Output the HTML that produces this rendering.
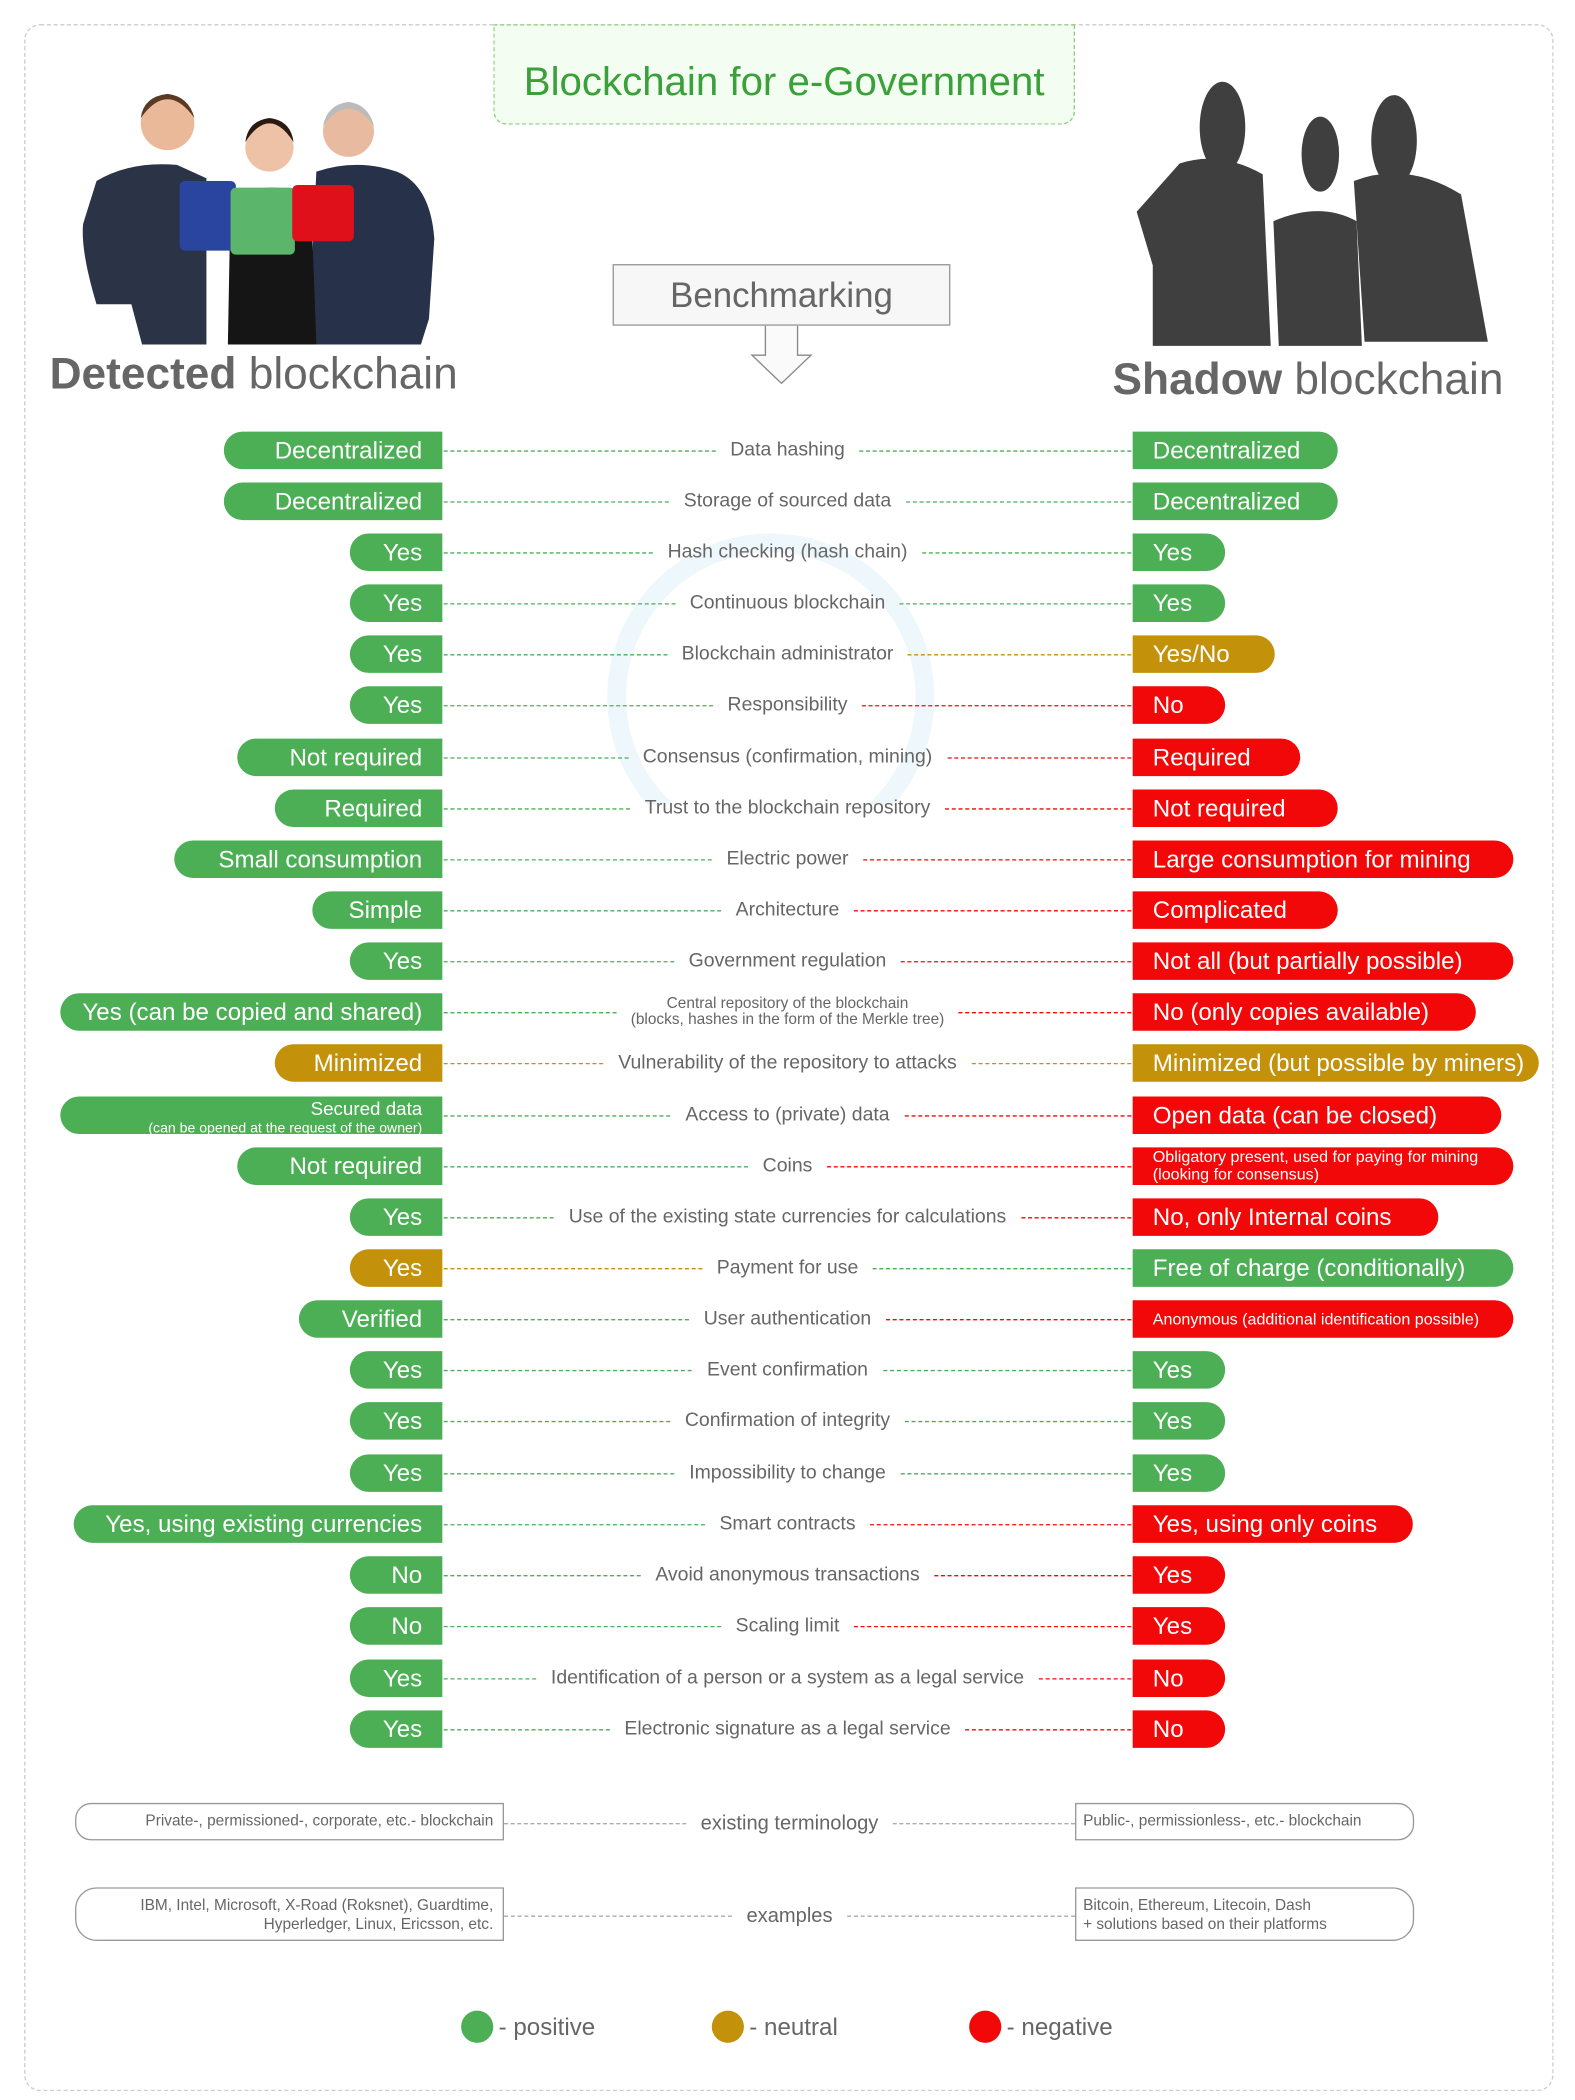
<!DOCTYPE html>
<html><head><meta charset="utf-8"><style>
html,body{margin:0;padding:0;background:#fff;width:1575px;height:2100px;overflow:hidden}
#c{position:absolute;left:0;top:0;width:1175px;height:1567px;transform:scale(1.34043);transform-origin:0 0;font-family:"Liberation Sans",sans-serif;color:#666}
.a{position:absolute}
.row{position:absolute;left:0;width:1175px;height:28px}
.lp,.rp{position:absolute;top:0;height:28px;line-height:28px;color:#fff;font-size:18px;white-space:nowrap;box-sizing:border-box}
.lp{right:845px;border-radius:14px 0 0 14px;text-align:right;padding-right:15px}
.rp{left:845px;border-radius:0 14px 14px 0;padding-left:15px}
.mid{position:absolute;left:331px;width:513px;top:0;height:28px;display:flex;align-items:center}
.mid span{font-size:14.5px;color:#666;padding:0 11px;white-space:nowrap;text-align:center;line-height:1}
.l{flex:1;height:0;border-top:1px dashed}
.g{background:#4caf55}.y{background:#c3920a}.r{background:#f20808}
.gl{border-color:#4caf55}.yl{border-color:#c3920a}.rl{border-color:#f20808}
.sm{font-size:11.5px!important;line-height:1.05!important}
.box{position:absolute;border:1px solid #999;box-sizing:border-box;font-size:11.5px;color:#666}
.dl{flex:1;height:0;border-top:1px dashed #aaa}
</style></head><body><div id="c">
<div class="a" style="left:18px;top:18px;width:1139px;height:1540px;border:1px dashed #ccc;border-radius:12px"></div>
<svg class="a" style="left:0;top:0" width="1175" height="600">
<circle cx="575" cy="520" r="115" fill="none" stroke="#eef7fb" stroke-width="14"/>
<g>
<path d="M72 135 q25-15 60-12 l22 10 l0 124 h-48 l-8-30 h-26 q-12-40-10-60z" fill="#2b3346"/>
<circle cx="125" cy="92" r="20" fill="#e9b99a"/><path d="M105 88 q20-28 40 0 q-4-16-20-18 q-18 2-20 18z" fill="#5a3a22"/>
<path d="M236 128 q30-10 60 0 q25 10 28 50 l-4 60 l-6 19 h-84z" fill="#27324a"/>
<circle cx="260" cy="98" r="19" fill="#e8bba0"/><path d="M241 94 q19-26 38 0 q-4-16-19-18 q-16 2-19 18z" fill="#bbb"/>
<path d="M172 148 q30-16 60 0 l4 109 h-66z" fill="#151515"/>
<circle cx="201" cy="110" r="18" fill="#eec2a6"/><path d="M183 106 q18-28 36 0 q-2-16-18-18 q-16 2-18 18z" fill="#2a1a12"/>
<rect x="134" y="135" width="42" height="52" rx="4" fill="#2a45a0"/>
<rect x="172" y="140" width="48" height="50" rx="4" fill="#5bb66b"/>
<rect x="218" y="138" width="46" height="42" rx="4" fill="#e0101a"/>
</g>
<g fill="#3f3f3f">
<ellipse cx="912" cy="95" rx="17" ry="34"/><path d="M880 122 q30-10 62 8 l6 128 h-88 l0-60 l-12-40z"/>
<ellipse cx="1040" cy="105" rx="17" ry="34"/><path d="M1010 135 q40-15 80 10 l20 110 h-50 l-42 0z"/>
<ellipse cx="985" cy="115" rx="14" ry="28"/><path d="M950 165 q35-15 62 0 l4 93 h-62z"/>
</g>
<path d="M571 243 v22 h-10 l22 21 l22-21 h-10 v-22" fill="#fafafa" stroke="#888" stroke-width="1"/>
</svg>
<div class="a" style="left:368px;top:18px;width:434px;height:75px;border:1px dashed #8ccc7c;border-radius:0 0 10px 10px;background:#f3fdf1;box-sizing:border-box;text-align:center;line-height:86px;font-size:30px;color:#3aa13a">Blockchain for e-Government</div>
<div class="a" style="left:457px;top:197px;width:252px;height:46px;border:1px solid #999;background:#f7f7f7;box-sizing:border-box;text-align:center;line-height:44px;font-size:26px;color:#666">Benchmarking</div>
<div class="a" style="left:37px;top:260px;font-size:33px;color:#666;white-space:nowrap"><b>Detected</b> blockchain</div>
<div class="a" style="left:830px;top:264px;font-size:33px;color:#666;white-space:nowrap"><b>Shadow</b> blockchain</div>

<div class="row" style="top:322px"><div class="lp g" style="width:163px">Decentralized</div><div class="mid"><i class="l gl"></i><span>Data hashing</span><i class="l gl"></i></div><div class="rp g" style="width:153px">Decentralized</div></div>
<div class="row" style="top:360px"><div class="lp g" style="width:163px">Decentralized</div><div class="mid"><i class="l gl"></i><span>Storage of sourced data</span><i class="l gl"></i></div><div class="rp g" style="width:153px">Decentralized</div></div>
<div class="row" style="top:398px"><div class="lp g" style="width:69px">Yes</div><div class="mid"><i class="l gl"></i><span>Hash checking (hash chain)</span><i class="l gl"></i></div><div class="rp g" style="width:69px">Yes</div></div>
<div class="row" style="top:436px"><div class="lp g" style="width:69px">Yes</div><div class="mid"><i class="l gl"></i><span>Continuous blockchain</span><i class="l gl"></i></div><div class="rp g" style="width:69px">Yes</div></div>
<div class="row" style="top:474px"><div class="lp g" style="width:69px">Yes</div><div class="mid"><i class="l gl"></i><span>Blockchain administrator</span><i class="l yl"></i></div><div class="rp y" style="width:106px">Yes/No</div></div>
<div class="row" style="top:512px"><div class="lp g" style="width:69px">Yes</div><div class="mid"><i class="l gl"></i><span>Responsibility</span><i class="l rl"></i></div><div class="rp r" style="width:69px">No</div></div>
<div class="row" style="top:551px"><div class="lp g" style="width:153px">Not required</div><div class="mid"><i class="l gl"></i><span>Consensus (confirmation, mining)</span><i class="l rl"></i></div><div class="rp r" style="width:125px">Required</div></div>
<div class="row" style="top:589px"><div class="lp g" style="width:125px">Required</div><div class="mid"><i class="l gl"></i><span>Trust to the blockchain repository</span><i class="l rl"></i></div><div class="rp r" style="width:153px">Not required</div></div>
<div class="row" style="top:627px"><div class="lp g" style="width:200px">Small consumption</div><div class="mid"><i class="l gl"></i><span>Electric power</span><i class="l rl"></i></div><div class="rp r" style="width:284px">Large consumption for mining</div></div>
<div class="row" style="top:665px"><div class="lp g" style="width:97px">Simple</div><div class="mid"><i class="l gl"></i><span>Architecture</span><i class="l rl"></i></div><div class="rp r" style="width:153px">Complicated</div></div>
<div class="row" style="top:703px"><div class="lp g" style="width:69px">Yes</div><div class="mid"><i class="l gl"></i><span>Government regulation</span><i class="l rl"></i></div><div class="rp r" style="width:284px">Not all (but partially possible)</div></div>
<div class="row" style="top:741px"><div class="lp g" style="width:285px">Yes (can be copied and shared)</div><div class="mid"><i class="l gl"></i><span class="sm">Central repository of the blockchain<br>(blocks, hashes in the form of the Merkle tree)</span><i class="l rl"></i></div><div class="rp r" style="width:256px">No (only copies available)</div></div>
<div class="row" style="top:779px"><div class="lp y" style="width:125px">Minimized</div><div class="mid"><i class="l yl"></i><span>Vulnerability of the repository to attacks</span><i class="l yl"></i></div><div class="rp y" style="width:303px">Minimized (but possible by miners)</div></div>
<div class="row" style="top:818px"><div class="lp g" style="width:285px;line-height:12px;padding-top:2px"><span style="font-size:14px">Secured data</span><br><span style="font-size:10.5px">(can be opened at the request of the owner)</span></div><div class="mid"><i class="l gl"></i><span>Access to (private) data</span><i class="l rl"></i></div><div class="rp r" style="width:275px">Open data (can be closed)</div></div>
<div class="row" style="top:856px"><div class="lp g" style="width:153px">Not required</div><div class="mid"><i class="l gl"></i><span>Coins</span><i class="l rl"></i></div><div class="rp r" style="width:284px;font-size:12px;line-height:13px;padding-top:1px">Obligatory present, used for paying for mining<br>(looking for consensus)</div></div>
<div class="row" style="top:894px"><div class="lp g" style="width:69px">Yes</div><div class="mid"><i class="l gl"></i><span>Use of the existing state currencies for calculations</span><i class="l rl"></i></div><div class="rp r" style="width:228px">No, only Internal coins</div></div>
<div class="row" style="top:932px"><div class="lp y" style="width:69px">Yes</div><div class="mid"><i class="l yl"></i><span>Payment for use</span><i class="l gl"></i></div><div class="rp g" style="width:284px">Free of charge (conditionally)</div></div>
<div class="row" style="top:970px"><div class="lp g" style="width:107px">Verified</div><div class="mid"><i class="l gl"></i><span>User authentication</span><i class="l rl"></i></div><div class="rp r" style="width:284px;font-size:12px">Anonymous (additional identification possible)</div></div>
<div class="row" style="top:1008px"><div class="lp g" style="width:69px">Yes</div><div class="mid"><i class="l gl"></i><span>Event confirmation</span><i class="l gl"></i></div><div class="rp g" style="width:69px">Yes</div></div>
<div class="row" style="top:1046px"><div class="lp g" style="width:69px">Yes</div><div class="mid"><i class="l gl"></i><span>Confirmation of integrity</span><i class="l gl"></i></div><div class="rp g" style="width:69px">Yes</div></div>
<div class="row" style="top:1085px"><div class="lp g" style="width:69px">Yes</div><div class="mid"><i class="l gl"></i><span>Impossibility to change</span><i class="l gl"></i></div><div class="rp g" style="width:69px">Yes</div></div>
<div class="row" style="top:1123px"><div class="lp g" style="width:275px">Yes, using existing currencies</div><div class="mid"><i class="l gl"></i><span>Smart contracts</span><i class="l rl"></i></div><div class="rp r" style="width:209px">Yes, using only coins</div></div>
<div class="row" style="top:1161px"><div class="lp g" style="width:69px">No</div><div class="mid"><i class="l gl"></i><span>Avoid anonymous transactions</span><i class="l rl"></i></div><div class="rp r" style="width:69px">Yes</div></div>
<div class="row" style="top:1199px"><div class="lp g" style="width:69px">No</div><div class="mid"><i class="l gl"></i><span>Scaling limit</span><i class="l rl"></i></div><div class="rp r" style="width:69px">Yes</div></div>
<div class="row" style="top:1238px"><div class="lp g" style="width:69px">Yes</div><div class="mid"><i class="l gl"></i><span>Identification of a person or a system as a legal service</span><i class="l rl"></i></div><div class="rp r" style="width:69px">No</div></div>
<div class="row" style="top:1276px"><div class="lp g" style="width:69px">Yes</div><div class="mid"><i class="l gl"></i><span>Electronic signature as a legal service</span><i class="l rl"></i></div><div class="rp r" style="width:69px">No</div></div>

<div class="box" style="left:56px;top:1345px;width:320px;height:28px;border-radius:12px 0 0 12px;text-align:right;padding-right:7px;line-height:26px">Private-, permissioned-, corporate, etc.- blockchain</div>
<div class="box" style="left:802px;top:1345px;width:253px;height:28px;border-radius:0 12px 12px 0;padding-left:5px;line-height:26px">Public-, permissionless-, etc.- blockchain</div>
<div class="mid" style="left:376px;width:426px;top:1346px"><i class="dl"></i><span style="font-size:15px">existing terminology</span><i class="dl"></i></div>
<div class="box" style="left:56px;top:1408px;width:320px;height:40px;border-radius:16px 0 0 16px;text-align:right;padding-right:7px;padding-top:6px;line-height:14px">IBM, Intel, Microsoft, X-Road (Roksnet), Guardtime,<br>Hyperledger, Linux, Ericsson, etc.</div>
<div class="box" style="left:802px;top:1408px;width:253px;height:40px;border-radius:0 16px 16px 0;padding-left:5px;padding-top:6px;line-height:14px">Bitcoin, Ethereum, Litecoin, Dash<br>+ solutions based on their platforms</div>
<div class="mid" style="left:376px;width:426px;top:1415px"><i class="dl"></i><span style="font-size:15px">examples</span><i class="dl"></i></div>

<div class="a" style="left:344px;top:1500px;width:24px;height:24px;border-radius:50%;background:#4caf55"></div>
<div class="a" style="left:372px;top:1500px;font-size:18px;line-height:24px">- positive</div>
<div class="a" style="left:531px;top:1500px;width:24px;height:24px;border-radius:50%;background:#c3920a"></div>
<div class="a" style="left:559px;top:1500px;font-size:18px;line-height:24px">- neutral</div>
<div class="a" style="left:723px;top:1500px;width:24px;height:24px;border-radius:50%;background:#f20808"></div>
<div class="a" style="left:751px;top:1500px;font-size:18px;line-height:24px">- negative</div>
</div></body></html>
